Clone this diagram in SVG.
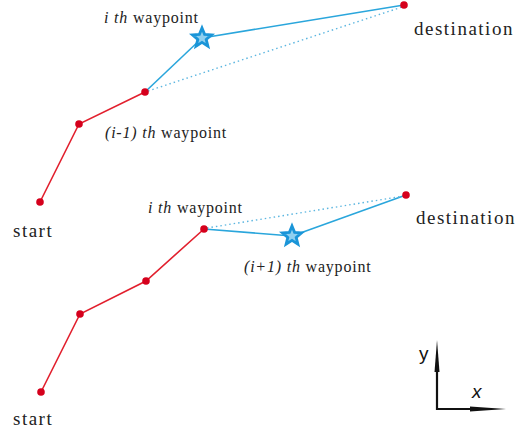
<svg xmlns="http://www.w3.org/2000/svg" width="525" height="434" viewBox="0 0 525 434">
<defs>
<style>
.red{fill:none;stroke:#e2202e;stroke-width:1.6}
.blue{fill:none;stroke:#2aa6dc;stroke-width:1.6}
.dot{fill:none;stroke:#5cb6e0;stroke-width:1.4;stroke-dasharray:1.5 3}
.pt{fill:#d5001c}
.star{fill:#8fd0f0;stroke:#1a95d8;stroke-width:2.8;stroke-linejoin:miter}
.lbl{font-family:"Liberation Serif","Times New Roman",serif;font-size:16px;fill:#222;letter-spacing:0.8px}
.big{font-family:"Liberation Serif","Times New Roman",serif;font-size:19px;fill:#222;letter-spacing:1.5px}
.ax{font-family:"Liberation Sans",Arial,sans-serif;font-size:19px;fill:#111}
.axl{stroke:#111;stroke-width:2.2;fill:none}
</style>
<polygon id="s" points="0,-10 2.6,-3.6 9.5,-3.1 4.2,1.4 5.9,8.1 0,4.4 -5.9,8.1 -4.2,1.4 -9.5,-3.1 -2.6,-3.6"/>
</defs>
<g id="connectors">
<polyline class="red" points="40,202 79,124 145,92"/>
<line class="blue" x1="145" y1="92" x2="202" y2="38"/>
<line class="blue" x1="202" y1="38" x2="404" y2="5"/>
<line class="dot" x1="148" y1="91" x2="402" y2="7"/>
<polyline class="red" points="41,392 80,314 146,281 204,229"/>
<line class="blue" x1="204" y1="229" x2="292" y2="236"/>
<line class="blue" x1="292" y1="236" x2="406" y2="195"/>
<line class="dot" x1="207" y1="228" x2="404" y2="196"/>
</g>
<g id="top-start"><circle class="pt" cx="40" cy="202" r="3.8"/><text class="big" x="13" y="237">start</text></g>
<g id="top-p1"><circle class="pt" cx="79" cy="124" r="3.8"/></g>
<g id="top-im1"><circle class="pt" cx="145" cy="92" r="3.8"/><text class="lbl" x="105" y="138"><tspan font-style="italic">(i-1) th </tspan>waypoint</text></g>
<g id="top-i"><use href="#s" class="star" transform="translate(202,38)"/><text class="lbl" x="104" y="23"><tspan font-style="italic">i th </tspan>waypoint</text></g>
<g id="top-dest"><circle class="pt" cx="404" cy="5" r="3.8"/><text class="big" x="414" y="35">destination</text></g>
<g id="bot-start"><circle class="pt" cx="41" cy="392" r="3.8"/><text class="big" x="13" y="425">start</text></g>
<g id="bot-p1"><circle class="pt" cx="80" cy="314" r="3.8"/></g>
<g id="bot-p2"><circle class="pt" cx="146" cy="281" r="3.8"/></g>
<g id="bot-i"><circle class="pt" cx="204" cy="229" r="3.8"/><text class="lbl" x="148" y="213"><tspan font-style="italic">i th </tspan>waypoint</text></g>
<g id="bot-ip1"><use href="#s" class="star" transform="translate(292,236)"/><text class="lbl" x="244" y="272"><tspan font-style="italic">(i+1) th </tspan>waypoint</text></g>
<g id="bot-dest"><circle class="pt" cx="406" cy="195" r="3.8"/><text class="big" x="416" y="224">destination</text></g>
<g id="axes">
<polyline class="axl" points="437,365 437,409 472,409"/>
<polygon points="437,340 439.5,372 434.5,372" fill="#111"/>
<polygon points="506,409 470,406.5 470,411.5" fill="#111"/>
<text class="ax" x="419" y="360">y</text>
<text class="ax" x="472" y="398" font-style="italic">x</text>
</g>
</svg>
